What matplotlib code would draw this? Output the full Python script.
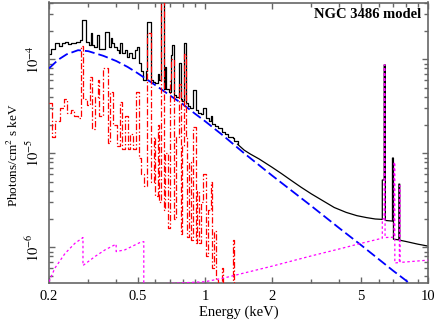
import matplotlib
matplotlib.use("Agg")
import matplotlib.pyplot as plt
from matplotlib.ticker import NullFormatter, FixedLocator

plt.rcParams['font.family'] = ['Liberation Serif', 'DejaVu Serif']
plt.rcParams['mathtext.fontset'] = 'stix'

# ---- power-law continuum (blue dashed) ----
cont_e = [0.2, 0.22, 0.24, 0.27, 0.3, 0.35, 0.4, 0.45, 0.5, 0.6, 0.7, 0.8, 0.9,
          1.0, 1.2, 1.5, 2.0, 3.0, 4.0, 5.0, 6.0, 7.0, 8.0, 10.0]
cont_f = [8.0e-5, 9.9e-5, 1.13e-4, 1.25e-4, 1.22e-4, 1.09e-4, 9.6e-5, 8.3e-5, 7.1e-5,
          5.3e-5, 4.1e-5, 3.3e-5, 2.65e-5, 2.2e-5, 1.56e-5, 1.0e-5, 5.8e-6, 2.75e-6,
          1.6e-6, 1.06e-6, 7.5e-7, 5.6e-7, 4.4e-7, 2.9e-7]

# ---- thermal plasma (red dash-dot), histogram bins: left edge / flux ----
thermal_e = [0.200, 0.206, 0.2125, 0.224, 0.233, 0.241, 0.250, 0.258, 0.270, 0.279,
             0.284, 0.295, 0.306, 0.313, 0.322, 0.330, 0.335, 0.350, 0.368, 0.377,
             0.386, 0.404, 0.416, 0.425, 0.438, 0.450, 0.462, 0.476, 0.489, 0.505,
             0.517, 0.535, 0.550, 0.575, 0.590, 0.600, 0.615, 0.625, 0.636, 0.656,
             0.665, 0.680, 0.698, 0.705, 0.725, 0.740, 0.765, 0.780, 0.790, 0.805,
             0.823, 0.835, 0.850, 0.870, 0.885, 0.910, 0.925, 0.945, 0.960, 0.980,
             1.010, 1.030, 1.060, 1.080, 1.100, 1.120, 1.140, 1.190, 1.205, 1.330,
             1.355, 1.600]
thermal_f = [3.4e-5, 1.5e-5, 2.2e-5, 3.0e-5, 3.8e-5, 2.7e-5, 2.9e-5, 2.5e-5, 2.35e-5, 1.4e-4,
             3.8e-5, 3.3e-5, 6.5e-5, 1.8e-5, 4.0e-5, 6.0e-5, 2.5e-5, 8.0e-5, 1.3e-5, 4.5e-5,
             2.0e-5, 1.2e-5, 3.5e-5, 1.1e-5, 2.5e-5, 1.1e-5, 1.6e-5, 1.1e-5, 4.5e-5, 9.0e-6,
             6.0e-6, 4.5e-6, 1.9e-4, 5.0e-6, 1.5e-5, 3.5e-6, 2.0e-5, 3.0e-6, 5.0e-4, 2.5e-6,
             1.0e-5, 1.6e-6, 6.0e-5, 1.0e-4, 2.0e-6, 1.5e-5, 5.4e-5, 1.4e-6, 1.2e-5, 1.14e-4,
             1.5e-5, 1.3e-6, 8.0e-6, 1.2e-6, 1.9e-5, 1.1e-6, 4.0e-6, 1.1e-6, 3.0e-6, 6.0e-6,
             8.0e-7, 2.5e-6, 5.0e-6, 6.0e-7, 1.5e-6, 4.5e-7, 3.0e-7, 6.0e-7, 3.0e-7, 1.2e-6,
             3.0e-7, 3.0e-7]

# ---- reflection component with Fe/Ni lines (magenta dotted) ----
refl_e = [0.200, 0.2125, 0.236, 0.261, 0.284, 0.284, 0.322, 0.357, 0.400, 0.400,
          0.438, 0.510, 0.532, 0.532, 0.660, 1.00, 1.21, 2.0, 3.0, 4.0, 5.0, 6.24,
          6.24, 6.36, 6.36, 6.42, 6.42, 7.04, 7.04, 7.10, 7.10, 7.44, 7.44, 7.50,
          7.50, 10.0]
refl_f = [4.3e-7, 6.0e-7, 8.6e-7, 1.1e-6, 1.27e-6, 6.4e-7, 8.0e-7, 9.4e-7, 1.08e-6, 9.0e-7,
          9.4e-7, 1.12e-6, 1.15e-6, 2.5e-7, 4.1e-7, 4.3e-7, 4.7e-7, 6.3e-7, 8.1e-7, 9.6e-7,
          1.1e-6, 1.25e-6, 2.0e-6, 2.0e-6, 8.7e-5, 8.7e-5, 1.27e-6, 1.28e-6, 8.0e-6, 8.0e-6,
          6.8e-7, 6.9e-7, 4.5e-6, 4.5e-6, 6.9e-7, 7.3e-7]

# ---- total model (black): soft-band histogram + hard-band curve ----
total_soft_e = [0.200, 0.204, 0.212, 0.221, 0.228, 0.236, 0.244, 0.252, 0.264, 0.275,
                0.280, 0.294, 0.302, 0.307, 0.313, 0.318, 0.327, 0.335, 0.355, 0.372,
                0.378, 0.384, 0.390, 0.405, 0.413, 0.418, 0.425, 0.436, 0.448, 0.458,
                0.470, 0.486, 0.494, 0.505, 0.517, 0.530, 0.545, 0.552, 0.573, 0.585,
                0.597, 0.615, 0.625, 0.636, 0.656, 0.663, 0.670, 0.690, 0.703, 0.712,
                0.728, 0.745, 0.765, 0.780, 0.792, 0.805, 0.823, 0.840, 0.860, 0.888,
                0.910, 0.935, 0.960, 0.985, 1.010, 1.040, 1.062, 1.080, 1.110, 1.140,
                1.190, 1.230, 1.270, 1.330, 1.355, 1.400]
total_soft_f = [1.13e-4, 1.30e-4, 1.48e-4, 1.38e-4, 1.48e-4, 1.54e-4, 1.47e-4, 1.50e-4, 1.54e-4, 1.60e-4,
                2.62e-4, 1.54e-4, 1.42e-4, 1.90e-4, 1.42e-4, 1.36e-4, 1.80e-4, 1.30e-4, 1.97e-4, 1.36e-4,
                1.67e-4, 1.48e-4, 1.36e-4, 1.26e-4, 1.16e-4, 1.48e-4, 1.16e-4, 1.26e-4, 1.07e-4, 1.16e-4,
                1.02e-4, 1.26e-4, 1.36e-4, 9.1e-5, 7.5e-5, 6.0e-5, 7.5e-5, 2.5e-4, 6.0e-5, 5.8e-5,
                5.6e-5, 7.0e-5, 6.0e-5, 6.0e-4, 4.8e-5, 8.3e-5, 4.8e-5, 4.5e-5, 1.1e-4, 1.42e-4,
                4.2e-5, 4.0e-5, 9.1e-5, 3.8e-5, 3.6e-5, 1.48e-4, 3.4e-5, 3.2e-5, 3.0e-5, 4.7e-5,
                2.9e-5, 2.7e-5, 2.6e-5, 3.0e-5, 2.35e-5, 2.2e-5, 2.5e-5, 2.05e-5, 1.95e-5, 1.85e-5,
                1.7e-5, 1.6e-5, 1.5e-5, 1.45e-5, 1.35e-5, 1.25e-5]
total_hard_e = [1.40, 1.50, 1.60, 1.75, 2.0, 2.2, 2.45, 2.7, 3.0, 3.4, 3.8, 4.3, 4.8, 5.3,
                5.8, 6.24, 6.24, 6.36, 6.36, 6.44, 6.44, 6.93, 6.93, 7.0, 7.0, 7.40, 7.40,
                7.47, 7.47, 8.0, 9.0, 10.0]
total_hard_f = [1.25e-5, 1.08e-5, 9.8e-6, 8.7e-6, 7.1e-6, 6.1e-6, 5.1e-6, 4.35e-6, 3.7e-6, 3.1e-6,
                2.65e-6, 2.35e-6, 2.17e-6, 2.07e-6, 2.0e-6, 1.98e-6, 5.2e-6, 5.2e-6, 8.7e-5, 8.7e-5,
                1.93e-6, 1.9e-6, 8.9e-6, 8.9e-6, 1.22e-6, 1.2e-6, 4.7e-6, 4.7e-6, 1.19e-6, 1.15e-6,
                1.08e-6, 1.03e-6]

x_ticks = [0.2, 0.5, 1, 2, 5, 10]
x_tick_labels = ['0.2', '0.5', '1', '2', '5', '10']
x_minor = [0.3, 0.4, 0.6, 0.7, 0.8, 0.9, 3, 4, 6, 7, 8, 9]
y_ticks = [1e-6, 1e-5, 1e-4]
y_tick_labels = ['$10^{-6}$', '$10^{-5}$', '$10^{-4}$']

fig = plt.figure(figsize=(4.36, 3.20), dpi=100)
ax = fig.add_axes([49/436, 1 - 283/320, (428 - 49)/436, (283 - 2.5)/320])
ax.set_xscale('log')
ax.set_yscale('log')

ax.step(total_soft_e, total_soft_f, where='post', color='black', lw=0.9, zorder=2)
ax.plot(total_hard_e, total_hard_f, color='black', lw=0.9, zorder=2)
ax.plot(cont_e, cont_f, color='#0000ff', lw=1.3, dashes=(5.5, 2.2), zorder=3)
ax.step(thermal_e, thermal_f, where='post', color='#ff0000', lw=0.9,
        dashes=(5, 1.7, 1.1, 1.7), zorder=4)
ax.plot(refl_e, refl_f, color='#ff00ff', lw=0.9, dashes=(2, 2), zorder=5)

ax.set_xlim(0.2, 10)
ax.set_ylim(4.17e-7, 4.02e-4)

ax.xaxis.set_major_locator(FixedLocator(x_ticks))
ax.set_xticklabels(x_tick_labels)
ax.xaxis.set_minor_locator(FixedLocator(x_minor))
ax.xaxis.set_minor_formatter(NullFormatter())
ax.yaxis.set_major_locator(FixedLocator(y_ticks))
ax.set_yticklabels(y_tick_labels)
y_minor = [m * d for d in [1e-7, 1e-6, 1e-5, 1e-4] for m in range(2, 10)]
ax.yaxis.set_minor_locator(FixedLocator(y_minor))
ax.yaxis.set_minor_formatter(NullFormatter())

spine_col = '#666666'
for s in ax.spines.values():
    s.set_color(spine_col)
    s.set_linewidth(1.2)
ax.tick_params(which='both', direction='in', top=True, right=True, color=spine_col,
               labelsize=10.5, width=1.0)
ax.tick_params(which='major', length=4.5, pad=5)
ax.tick_params(which='minor', length=2.6)
ax.tick_params(axis='y', labelrotation=90)
for lbl in ax.get_yticklabels():
    lbl.set_va('center')

ax.set_xlabel('Energy (keV)', fontsize=10.5, labelpad=2)
ax.set_ylabel('Photons/cm$^2$ s keV', fontsize=9.5)
ax.yaxis.set_label_coords(-0.075, 0.455)
ax.text(0.982, 0.958, 'NGC 3486 model', transform=ax.transAxes, ha='right', va='center',
        fontsize=10.5, fontweight='bold')

fig.savefig('out.png', dpi=100)
